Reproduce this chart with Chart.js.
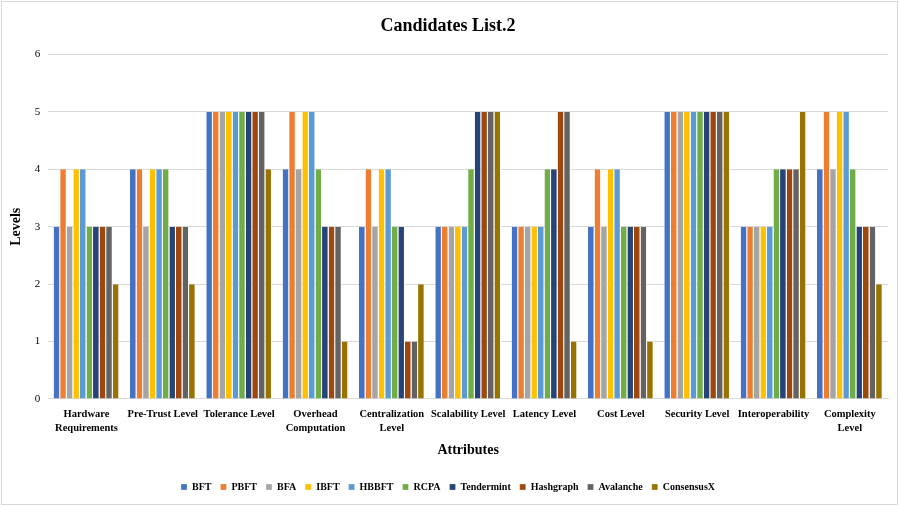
<!DOCTYPE html>
<html lang="en">
<head>
<meta charset="UTF-8">
<title>Candidates List.2</title>
<script src="https://cdn.jsdelivr.net/npm/chart.js"></script>
<style>
  html, body { margin: 0; padding: 0; background: #fff; }
  #wrap { position: absolute; left: 1px; top: 1px; width: 895px; height: 502px; border: 1px solid #d9d9d9; }
</style>
</head>
<body>
<div id="wrap"><canvas id="chart"></canvas></div>
<script>
// categories
const attributes = [
  ["Hardware", "Requirements"], "Pre-Trust Level", "Tolerance Level",
  ["Overhead", "Computation"], ["Centralization", "Level"], "Scalability Level",
  "Latency Level", "Cost Level", "Security Level", "Interoperability", ["Complexity", "Level"]
];

// one array per candidate
const BFT        = [3, 4, 5, 4, 3, 3, 3, 3, 5, 3, 4];
const PBFT       = [4, 4, 5, 5, 4, 3, 3, 4, 5, 3, 5];
const BFA        = [3, 3, 5, 4, 3, 3, 3, 3, 5, 3, 4];
const IBFT       = [4, 4, 5, 5, 4, 3, 3, 4, 5, 3, 5];
const HBBFT      = [4, 4, 5, 5, 4, 3, 3, 4, 5, 3, 5];
const RCPA       = [3, 4, 5, 4, 3, 4, 4, 3, 5, 4, 4];
const Tendermint = [3, 3, 5, 3, 3, 5, 4, 3, 5, 4, 3];
const Hashgraph  = [3, 3, 5, 3, 1, 5, 5, 3, 5, 4, 3];
const Avalanche  = [3, 3, 5, 3, 1, 5, 5, 3, 5, 4, 3];
const ConsensusX = [2, 2, 4, 1, 2, 5, 1, 1, 5, 5, 2];

const yTicks = [0, 1, 2, 3, 4, 5, 6];

const series = [
  ["BFT", BFT, "#4472C4"],
  ["PBFT", PBFT, "#ED7D31"],
  ["BFA", BFA, "#A5A5A5"],
  ["IBFT", IBFT, "#FFC000"],
  ["HBBFT", HBBFT, "#5B9BD5"],
  ["RCPA", RCPA, "#70AD47"],
  ["Tendermint", Tendermint, "#264478"],
  ["Hashgraph", Hashgraph, "#9E480E"],
  ["Avalanche", Avalanche, "#636363"],
  ["ConsensusX", ConsensusX, "#997300"]
];

const serif = "'Liberation Serif', 'DejaVu Serif', serif";

new Chart(document.getElementById("chart"), {
  type: "bar",
  data: {
    labels: attributes,
    datasets: series.map(([name, data, color]) => ({
      label: name,
      data: data,
      backgroundColor: color,
      borderColor: "#ffffff",
      borderWidth: { left: 0, right: 1, top: 0, bottom: 0 },
      categoryPercentage: 0.86,
      barPercentage: 1.0
    }))
  },
  options: {
    responsive: true,
    maintainAspectRatio: false,
    animation: false,
    layout: { padding: { left: 6, right: 9, top: 10, bottom: 2 } },
    plugins: {
      title: {
        display: true,
        text: "Candidates List.2",
        color: "#000",
        font: { family: serif, size: 18, weight: "bold" },
        padding: { top: 4, bottom: 17 }
      },
      legend: {
        position: "bottom",
        labels: {
          boxWidth: 6,
          boxHeight: 6,
          color: "#000",
          padding: 9,
          font: { family: serif, size: 10, weight: "bold" }
        }
      },
      tooltip: { enabled: false }
    },
    scales: {
      x: {
        grid: { display: false },
        border: { color: "#d9d9d9" },
        ticks: {
          color: "#000",
          maxRotation: 0,
          autoSkip: false,
          padding: 1,
          font: { family: serif, size: 10.5, weight: "bold", lineHeight: 1.3 }
        },
        title: {
          display: true,
          text: "Attributes",
          color: "#000",
          font: { family: serif, size: 14, weight: "bold" },
          padding: { top: 6, bottom: 14 }
        }
      },
      y: {
        min: 0,
        max: 6,
        afterBuildTicks: axis => { axis.ticks = yTicks.map(v => ({ value: v })); },
        grid: { color: "#d9d9d9", drawTicks: false },
        border: { display: false },
        ticks: {
          color: "#000",
          padding: 8,
          font: { family: serif, size: 11 }
        },
        title: {
          display: true,
          text: "Levels",
          color: "#000",
          font: { family: serif, size: 14, weight: "bold" },
          padding: { top: 0, bottom: 2 }
        }
      }
    }
  }
});
</script>
</body>
</html>
